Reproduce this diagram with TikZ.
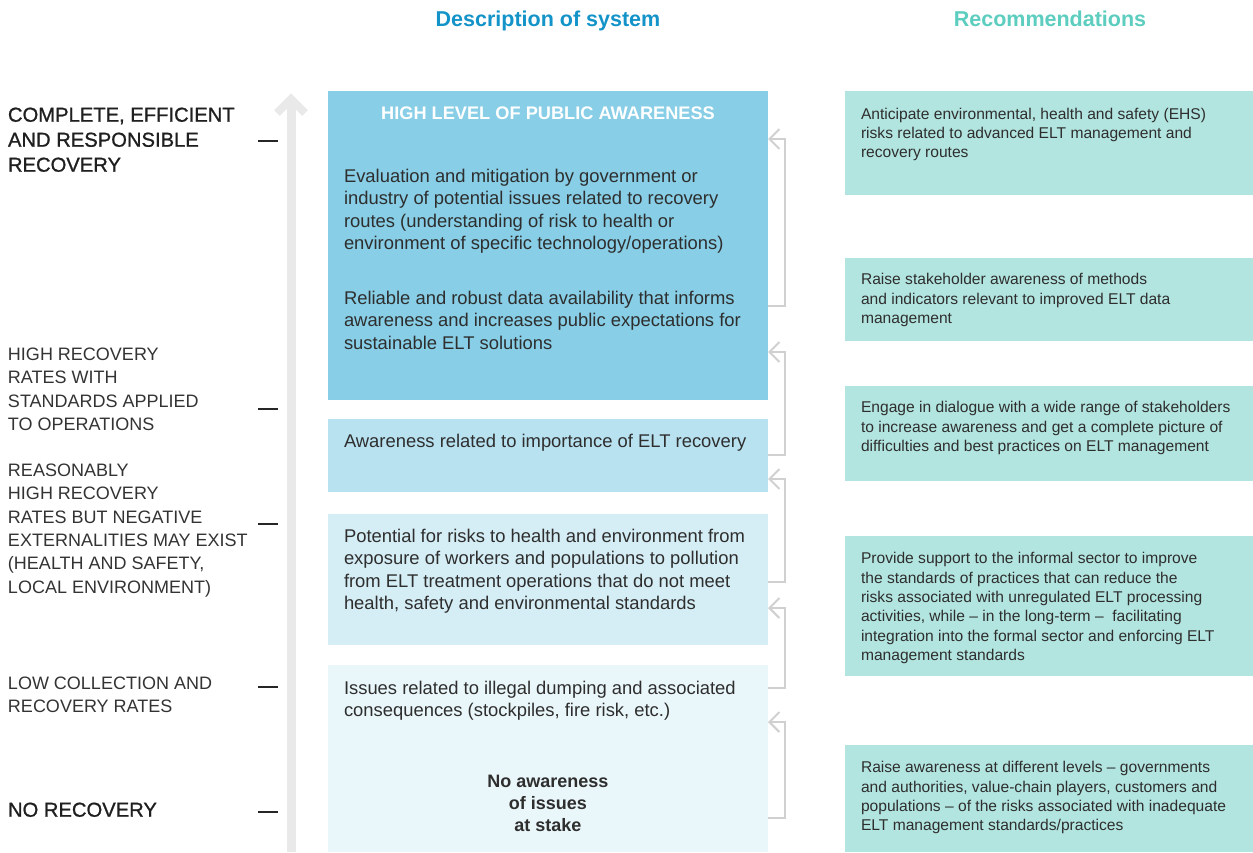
\documentclass[tikz,border=0pt]{standalone}
\usepackage{fontspec}
\setmainfont{Liberation Sans}
\newfontfamily\medfont{Liberation Sans}[FakeBold=1]
\usetikzlibrary{arrows.meta,calc}

\definecolor{sysA}{HTML}{87CEE6}
\definecolor{sysB}{HTML}{B9E2F1}
\definecolor{sysC}{HTML}{D5EDF5}
\definecolor{sysD}{HTML}{EAF7FA}
\definecolor{recbox}{HTML}{B3E5E0}
\definecolor{headblue}{HTML}{1393C8}
\definecolor{headteal}{HTML}{5CCDBE}
\definecolor{axisgray}{HTML}{E9E9E9}
\definecolor{linkgray}{HTML}{D0D0D0}
\definecolor{bodytext}{HTML}{2E2E2E}
\definecolor{labeltext}{HTML}{333333}

\tikzset{
  panel/.style={anchor=north west, inner sep=0, outer sep=0, draw=none},
  body/.style={anchor=north west, inner sep=0, outer sep=0, align=left,
    text=bodytext, font=\fontsize{18.4}{22.4}\selectfont},
  rec/.style={anchor=north west, inner sep=0, outer sep=0, align=left,
    text=bodytext, font=\fontsize{15.6}{19.4}\selectfont},
  lvl/.style={anchor=north west, inner sep=0, outer sep=0, align=left,
    text=labeltext, font=\fontsize{18}{23.3}\selectfont},
  lvlkey/.style={anchor=north west, inner sep=0, outer sep=0, align=left,
    text=black!88, font=\medfont\fontsize{20.2}{25}\selectfont},
  heading/.style={anchor=base, inner sep=0, font=\bfseries\fontsize{21.5}{25}\selectfont},
  tick/.style={draw=black!85, line width=2.2pt},
  axis/.style={draw=axisgray, line width=9pt},
  link/.style={draw=linkgray, line width=2pt,
    -{Straight Barb[length=10pt, width=20pt]}},
}

\begin{document}
\begin{tikzpicture}[x=1pt, y=-1pt]
\useasboundingbox (0,0) rectangle (1253,852);

% column headings
\node[heading, text=headblue] (hsys) at (548,26) {Description of system};
\node[heading, text=headteal] (hrec) at (1050,26) {Recommendations};

% vertical scale arrow
\coordinate (axisfoot) at (291,852);
\coordinate (axistop) at (291,99);
\draw[axis] (axisfoot) -- (axistop);
\draw[axis, line width=8pt, line join=miter]
  ($(axistop)+(-14,14)$) -- (axistop) -- ($(axistop)+(14,14)$);

% level labels and their ticks
\node[lvlkey] (lvl1) at (8,107.6) {COMPLETE, EFFICIENT\\AND RESPONSIBLE\\RECOVERY};
\node[lvl] (lvl2) at (8,348) {HIGH RECOVERY\\RATES WITH\\STANDARDS APPLIED\\TO OPERATIONS};
\node[lvl] (lvl3) at (8,464) {REASONABLY\\HIGH RECOVERY\\RATES BUT NEGATIVE\\EXTERNALITIES MAY EXIST\\(HEALTH AND SAFETY,\\LOCAL ENVIRONMENT)};
\node[lvl] (lvl4) at (8,677) {LOW COLLECTION AND\\RECOVERY RATES};
\node[lvlkey] (lvl5) at (8,802.6) {NO RECOVERY};

\draw[tick] (258,141) -- (278,141);
\draw[tick] (258,409) -- (278,409);
\draw[tick] (258,524) -- (278,524);
\draw[tick] (258,687) -- (278,687);
\draw[tick] (258,812) -- (278,812);

% system description panels
\node[panel, fill=sysA, minimum width=440, minimum height=309] (sys1) at (328,91) {};
\node[panel, fill=sysB, minimum width=440, minimum height=73] (sys2) at (328,419) {};
\node[panel, fill=sysC, minimum width=440, minimum height=131] (sys3) at (328,514) {};
\node[panel, fill=sysD, minimum width=440, minimum height=187] (sys4) at (328,665) {};

\node[anchor=base, inner sep=0, text=white, font=\bfseries\fontsize{18.2}{22}\selectfont]
  (sys1title) at (548,119) {HIGH LEVEL OF PUBLIC AWARENESS};
\node[body] (sys1a) at (344,169) {Evaluation and mitigation by government or\\industry of potential issues related to recovery\\routes (understanding of risk to health or\\environment of specific technology/operations)};
\node[body] (sys1b) at (344,291) {Reliable and robust data availability that informs\\awareness and increases public expectations for\\sustainable ELT solutions};
\node[body] (sys2a) at (344,434) {Awareness related to importance of ELT recovery};
\node[body] (sys3a) at (344,529) {Potential for risks to health and environment from\\exposure of workers and populations to pollution\\from ELT treatment operations that do not meet\\health, safety and environmental standards};
\node[body] (sys4a) at (344,681) {Issues related to illegal dumping and associated\\consequences (stockpiles, fire risk, etc.)};
\node[body, anchor=north, align=center, font=\bfseries\fontsize{18}{22.2}\selectfont]
  (sys4b) at (548,775) {No awareness\\of issues\\at stake};

% recommendation panels
\node[panel, fill=recbox, minimum width=408, minimum height=104] (rec1) at (845,91) {};
\node[panel, fill=recbox, minimum width=408, minimum height=83] (rec2) at (845,258) {};
\node[panel, fill=recbox, minimum width=408, minimum height=95] (rec3) at (845,386) {};
\node[panel, fill=recbox, minimum width=408, minimum height=140] (rec4) at (845,536) {};
\node[panel, fill=recbox, minimum width=408, minimum height=107] (rec5) at (845,745) {};

\node[rec] (rec1t) at (861,107.8) {Anticipate environmental, health and safety (EHS)\\risks related to advanced ELT management and\\recovery routes};
\node[rec] (rec2t) at (861,273.3) {Raise stakeholder awareness of methods\\and indicators relevant to improved ELT data\\management};
\node[rec] (rec3t) at (861,401.3) {Engage in dialogue with a wide range of stakeholders\\to increase awareness and get a complete picture of\\difficulties and best practices on ELT management};
\node[rec] (rec4t) at (861,552.3) {Provide support to the informal sector to improve\\the standards of practices that can reduce the\\risks associated with unregulated ELT processing\\activities, while -- in the long-term -- \ facilitating\\integration into the formal sector and enforcing ELT\\management standards};
\node[rec] (rec5t) at (861,761.3) {Raise awareness at different levels -- governments\\and authorities, value-chain players, customers and\\populations -- of the risks associated with inadequate\\ELT management standards/practices};

% step-up brackets between panels
\coordinate (l1from) at (sys1.east |- 0,306);
\coordinate (l1to)   at (sys1.east |- 0,139);
\coordinate (l2from) at (sys2.east |- 0,455);
\coordinate (l2to)   at (sys1.east |- 0,352);
\coordinate (l3from) at (sys3.east |- 0,582);
\coordinate (l3to)   at (sys2.east |- 0,479);
\coordinate (l4from) at (sys4.east |- 0,688);
\coordinate (l4to)   at (sys3.east |- 0,608);
\coordinate (l5from) at (sys4.east |- 0,818);
\coordinate (l5to)   at (sys4.east |- 0,722);

\draw[link] (l1from) -- ++(17,0) |- (l1to);
\draw[link] (l2from) -- ++(17,0) |- (l2to);
\draw[link] (l3from) -- ++(17,0) |- (l3to);
\draw[link] (l4from) -- ++(17,0) |- (l4to);
\draw[link] (l5from) -- ++(17,0) |- (l5to);
\end{tikzpicture}
\end{document}
